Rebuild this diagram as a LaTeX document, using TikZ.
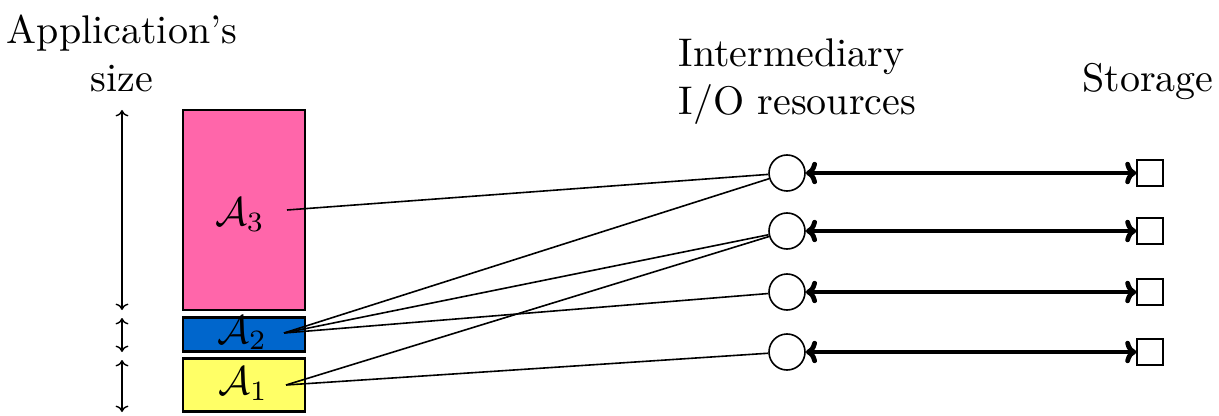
\documentclass[tikz,border=0pt]{standalone}
\usetikzlibrary{arrows.meta}
\definecolor{apppink}{RGB}{255,102,170}
\definecolor{appblue}{RGB}{0,102,204}
\definecolor{appyellow}{RGB}{255,255,102}
\begin{document}
\begin{tikzpicture}[x=0.25pt,y=-0.25pt,
  appbox/.style={draw=black,line width=0.7pt,inner sep=0pt,minimum width=30.5pt},
  iores/.style={draw=black,circle,line width=0.4pt,inner sep=0pt,minimum size=9pt},
  storebox/.style={draw=black,rectangle,line width=0.4pt,inner sep=0pt,minimum size=6.4pt},
  link/.style={line width=0.4pt},
  flow/.style={line width=1.2pt,{To[length=2.8pt,width=5.6pt]}-{To[length=2.8pt,width=5.6pt]}},
  sizearrow/.style={line width=0.35pt,{To[length=1.6pt,width=3.2pt]}-{To[length=1.6pt,width=3.2pt]}},
  lbl/.style={inner sep=0pt,font=\normalsize}
]
\useasboundingbox (0,0) rectangle (1219,416);
% application boxes
\node[appbox,fill=apppink,minimum height=50pt] (R3) at (244,210) {};
\node[appbox,fill=appblue,minimum height=8.6pt] (R2) at (244,334.5) {};
\node[appbox,fill=appyellow,minimum height=13.4pt] (R1) at (244,385) {};
\node[lbl] (L3) at (240,215) {$\mathcal{A}_3$};
\node[lbl] (L2) at (242,333) {$\mathcal{A}_2$};
\node[lbl] (L1) at (243,384) {$\mathcal{A}_1$};
\coordinate (a3) at (287,210);
\coordinate (a2) at (284,333);
\coordinate (a1) at (286,385);
% size arrows
\coordinate (s3t) at (122,110);
\coordinate (s3b) at (122,310);
\coordinate (s2t) at (122,318);
\coordinate (s2b) at (122,352);
\coordinate (s1t) at (122,360);
\coordinate (s1b) at (122,412);
\draw[sizearrow] (s3t) -- (s3b);
\draw[sizearrow] (s2t) -- (s2b);
\draw[sizearrow] (s1t) -- (s1b);
% titles
\node[lbl,align=center] (T1) at (122,53) {Application's\\size};
\node[lbl,align=left,anchor=west] (T2) at (678,82) {Intermediary\\I/O resources};
\node[lbl] (T3) at (1148,82) {Storage};
% IO resources and storage
\foreach \i/\y in {1/173,2/231,3/292,4/352}{
  \node[iores] (C\i) at (787,\y) {};
  \node[storebox] (S\i) at (1150,\y) {};
  \draw[flow] (C\i) -- (S\i);
}
% links
\draw[link] (a3) -- (C1);
\draw[link] (a2) -- (C1);
\draw[link] (a2) -- (C2);
\draw[link] (a2) -- (C3);
\draw[link] (a1) -- (C2);
\draw[link] (a1) -- (C4);
\end{tikzpicture}
\end{document}
